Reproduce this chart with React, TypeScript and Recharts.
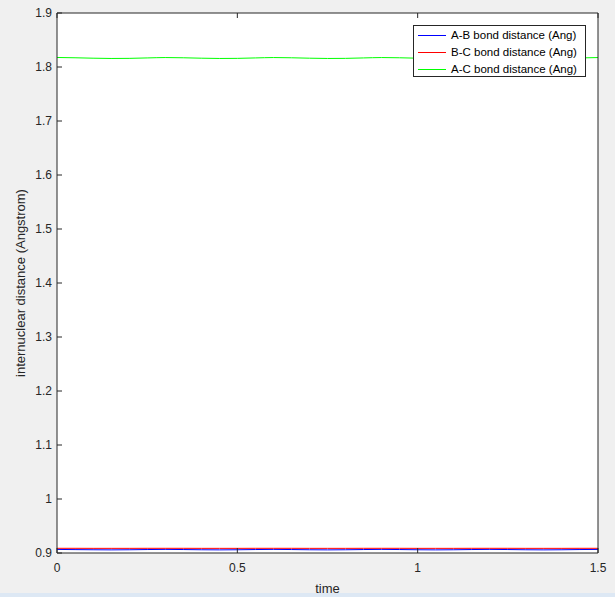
import React from 'react';
import {
  LineChart,
  Line,
  XAxis,
  YAxis,
  CartesianGrid,
  Label,
} from 'recharts';

// Bond distances (MATLAB style figure)
const times = [
  0, 0.05, 0.1, 0.15, 0.2, 0.25, 0.3, 0.35, 0.4, 0.45, 0.5, 0.55, 0.6, 0.65, 0.7, 0.75,
  0.8, 0.85, 0.9, 0.95, 1, 1.05, 1.1, 1.15, 1.2, 1.25, 1.3, 1.35, 1.4, 1.45, 1.5,
];
const abDistance = [
  0.9066, 0.9063, 0.906, 0.9058, 0.906, 0.9064, 0.9067, 0.9064, 0.906, 0.9058, 0.906,
  0.9064, 0.9067, 0.9064, 0.906, 0.9058, 0.906, 0.9064, 0.9067, 0.9064, 0.906, 0.9058,
  0.906, 0.9064, 0.9067, 0.9064, 0.906, 0.9058, 0.906, 0.9064, 0.9066,
];
const bcDistance = [
  0.9087, 0.9087, 0.9086, 0.9086, 0.9086, 0.9087, 0.9087, 0.9087, 0.9086, 0.9086, 0.9086,
  0.9087, 0.9087, 0.9087, 0.9086, 0.9086, 0.9086, 0.9087, 0.9087, 0.9087, 0.9086, 0.9086,
  0.9086, 0.9087, 0.9087, 0.9087, 0.9086, 0.9086, 0.9086, 0.9087, 0.9087,
];
const acDistance = [
  1.8176, 1.8171, 1.8163, 1.8158, 1.816, 1.8168, 1.8175, 1.8171, 1.8163, 1.8158, 1.816,
  1.8168, 1.8175, 1.8171, 1.8163, 1.8158, 1.816, 1.8168, 1.8175, 1.8171, 1.8163, 1.8158,
  1.816, 1.8168, 1.8175, 1.8171, 1.8163, 1.8158, 1.816, 1.8168, 1.8175,
];

const yTicks = [0.9, 1, 1.1, 1.2, 1.3, 1.4, 1.5, 1.6, 1.7, 1.8, 1.9];
const xTicks = [0, 0.5, 1, 1.5];

const series = [
  { key: 'ab', name: 'A-B bond distance (Ang)', color: '#0000ff' },
  { key: 'bc', name: 'B-C bond distance (Ang)', color: '#ff0000' },
  { key: 'ac', name: 'A-C bond distance (Ang)', color: '#00ff00' },
];

const data = times.map((t, i) => ({
  t,
  ab: abDistance[i],
  bc: bcDistance[i],
  ac: acDistance[i],
}));

const axisColor = '#262626';
const font = 'Arial, "Liberation Sans", Helvetica, sans-serif';

// legend drawn as a plain box over the plot, like MATLAB's
function LegendBox() {
  return (
    <div
      style={{
        position: 'absolute',
        left: 413,
        top: 25,
        width: 173,
        height: 52,
        boxSizing: 'border-box',
        border: '1px solid #262626',
        background: '#fff',
        padding: '1px 0 0 4px',
        fontFamily: font,
        fontSize: 11.5,
        color: '#000',
        lineHeight: '17px',
      }}
    >
      {series.map((s) => (
        <div key={s.key} style={{ display: 'flex', alignItems: 'center', whiteSpace: 'nowrap' }}>
          <span
            style={{
              display: 'inline-block',
              width: 28,
              height: 0,
              borderTop: `1px solid ${s.color}`,
              marginRight: 5,
            }}
          />
          <span>{s.name}</span>
        </div>
      ))}
    </div>
  );
}

export default function App() {
  return (
    <div
      style={{
        position: 'absolute',
        left: 0,
        top: 0,
        width: 615,
        height: 597,
        background: '#f0f0f0',
        overflow: 'hidden',
      }}
    >
      <LineChart
        width={615}
        height={597}
        data={data}
        margin={{ top: 0, right: 0, left: 0, bottom: 0 }}
        style={{ fontFamily: font }}
      >
        <CartesianGrid horizontal={false} vertical={false} fill="#ffffff" />
        <XAxis
          dataKey="t"
          type="number"
          domain={[0, 1.5]}
          ticks={xTicks}
          height={44}
          tickSize={-5}
          tickMargin={15}
          stroke={axisColor}
          tick={{ fill: axisColor, fontSize: 12 }}
          allowDataOverflow
        >
          <Label
            content={({ viewBox }: any) => (
              <text
                x={viewBox.x + viewBox.width / 2}
                y={viewBox.y + 40}
                textAnchor="middle"
                fill={axisColor}
                fontSize={13}
                fontFamily={font}
              >
                time
              </text>
            )}
          />
        </XAxis>
        <XAxis
          xAxisId="top"
          orientation="top"
          dataKey="t"
          type="number"
          domain={[0, 1.5]}
          ticks={xTicks}
          height={13}
          tickSize={-5}
          stroke={axisColor}
          tickFormatter={() => ''}
        />
        <YAxis
          type="number"
          domain={[0.9, 1.9]}
          ticks={yTicks}
          width={57}
          tickSize={-5}
          tickMargin={10}
          stroke={axisColor}
          tick={{ fill: axisColor, fontSize: 12 }}
          allowDataOverflow
        >
          <Label
            content={({ viewBox }: any) => {
              const cx = 20;
              const cy = viewBox.y + viewBox.height / 2;
              return (
                <text
                  x={cx}
                  y={cy}
                  transform={`rotate(-90, ${cx}, ${cy})`}
                  textAnchor="middle"
                  dominantBaseline="central"
                  fill={axisColor}
                  fontSize={13}
                  fontFamily={font}
                >
                  internuclear distance (Angstrom)
                </text>
              );
            }}
          />
        </YAxis>
        <YAxis
          yAxisId="right"
          orientation="right"
          type="number"
          domain={[0.9, 1.9]}
          ticks={yTicks}
          width={17}
          tickSize={-5}
          stroke={axisColor}
          tickFormatter={() => ''}
        />
        {series.map((s) => (
          <Line
            key={s.key}
            dataKey={s.key}
            name={s.name}
            type="monotone"
            stroke={s.color}
            strokeWidth={1}
            dot={false}
            isAnimationActive={false}
          />
        ))}
      </LineChart>
      <LegendBox />
      <div
        style={{
          position: 'absolute',
          left: 0,
          top: 593,
          width: 615,
          height: 4,
          background: '#dde8f4',
        }}
      />
    </div>
  );
}
